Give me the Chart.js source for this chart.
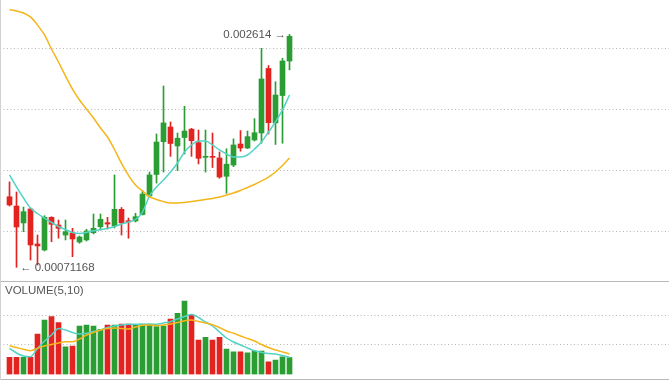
<!DOCTYPE html>
<html>
<head>
<meta charset="utf-8">
<script src="https://cdn.jsdelivr.net/npm/chart.js@4.4.1/dist/chart.umd.min.js"></script>
<style>
  html, body { margin: 0; padding: 0; background: #fff; }
  #wrap { position: relative; width: 669px; height: 380px; overflow: hidden; background: #fff; }
  canvas { position: absolute; left: 0; }
  .line { position: absolute; background: #b9b9b9; }
  .txt { position: absolute; font-family: "Liberation Sans", Arial, sans-serif; font-size: 11.5px; line-height: 11.5px; color: #555; white-space: nowrap; }
</style>
</head>
<body>
<div id="wrap">
  <canvas id="main" width="669" height="281" style="top:0"></canvas>
  <div class="line" style="left:0;top:281px;width:669px;height:1px;"></div>
  <canvas id="vol" width="669" height="97" style="top:282px"></canvas>
  <div class="line" style="left:0;top:379px;width:669px;height:1px;"></div>
  <div class="line" style="left:0;top:0;width:1px;height:380px;background:#d2d2d2"></div>
  <div class="txt" id="hiLbl"></div>
  <div class="txt" id="loLbl"></div>
  <div class="txt" id="volTitle" style="left:5px;top:285px;">VOLUME(5,10)</div>
</div>
<script>
// ---------- data ----------
const opens = [0.001288,0.001212,0.001074,0.001188,0.000902,0.000853,0.00112,0.001057,0.000975,0.000992,
  0.000918,0.000935,0.000994,0.001043,0.001076,0.001049,0.001185,0.001092,0.00109,0.001143,
  0.001294,0.00147,0.001738,0.001858,0.001703,0.001772,0.00184,0.00173,0.00161,0.001618,
  0.001605,0.001455,0.001547,0.001719,0.001686,0.001752,0.001809,0.002336,0.001891,0.002115,0.002397];
const highs = [0.001409,0.001327,0.001204,0.001196,0.000975,0.001133,0.001125,0.001098,0.001098,0.00103,
  0.000967,0.001022,0.001147,0.001147,0.00112,0.001466,0.0012,0.001114,0.001153,0.001339,
  0.00149,0.001801,0.002193,0.001899,0.001809,0.002027,0.001847,0.001833,0.001833,0.001809,
  0.001654,0.00168,0.001761,0.001829,0.001825,0.001926,0.002501,0.00236,0.002228,0.002419,0.002614];
const lows = [0.001212,0.00071168,0.001002,0.000771,0.00073,0.000845,0.000921,0.000949,0.000935,0.000798,
  0.000908,0.000926,0.000984,0.001016,0.001025,0.001033,0.000975,0.000949,0.001082,0.001139,
  0.001286,0.0014,0.00149,0.001618,0.001502,0.001637,0.001618,0.001556,0.00149,0.001527,
  0.001439,0.001316,0.001534,0.00166,0.001681,0.001743,0.001725,0.001801,0.001715,0.001725,0.002324];
const closes = [0.001221,0.001041,0.001166,0.000894,0.000886,0.00112,0.001063,0.00103,0.001002,0.000943,
  0.000959,0.001008,0.00103,0.001104,0.001065,0.001185,0.001074,0.001082,0.001125,0.00131,
  0.001466,0.001735,0.001891,0.001723,0.001766,0.001825,0.001746,0.001602,0.001617,0.00161,
  0.001449,0.001554,0.001711,0.001686,0.001779,0.001811,0.00225,0.001893,0.002119,0.002397,0.002599];
const maShort = [0.001466,0.001368,0.001278,0.001196,0.001151,0.001114,0.001078,0.001045,0.00102,0.000996,
  0.000988,0.000996,0.001011,0.00102,0.001029,0.001045,0.001065,0.001082,0.001102,0.001163,
  0.001294,0.001368,0.001425,0.00149,0.001564,0.001654,0.001711,0.001743,0.001743,0.001711,
  0.00167,0.001637,0.001613,0.001613,0.001629,0.001678,0.001735,0.001817,0.001899,0.001997,0.002119];
const maLong = [0.002818,0.002806,0.002789,0.002757,0.002691,0.00261,0.002495,0.002389,0.002275,0.002168,
  0.002078,0.002005,0.001931,0.00185,0.001776,0.001674,0.00156,0.001462,0.001384,0.001335,
  0.001288,0.001266,0.001248,0.001237,0.001237,0.001241,0.001249,0.001257,0.001266,0.001274,
  0.001286,0.001302,0.001319,0.001339,0.001364,0.001388,0.001417,0.001449,0.00149,0.001543,0.001605];
const volumes = [581,581,581,581,1368,1841,1953,1750,939,963,
  1639,1672,1639,1527,1672,1672,1706,1706,1672,1706,
  1706,1615,1639,1875,2068,2483,2010,1166,1257,1166,
  1257,861,770,770,736,794,794,432,490,601,568];
const volMa5 = [885,726,625,601,878,1132,1334,1554,1503,1419,
  1368,1392,1453,1503,1588,1639,1672,1696,1696,1696,
  1696,1696,1740,1784,1875,1959,2027,1926,1774,1639,
  1436,1233,1098,997,895,801,750,709,693,642,581];
const volMa10 = [973,912,851,804,885,963,1014,1064,1108,1108,
  1199,1334,1419,1503,1554,1571,1554,1537,1605,1662,
  1672,1649,1672,1706,1757,1818,1841,1791,1740,1679,
  1588,1470,1392,1301,1216,1132,1014,912,828,760,693];
const priceTicks = [0.001, 0.0015, 0.002, 0.0025];
const volTicks = [1000, 2000];

// ---------- style ----------
const UP = '#2a9d33', DOWN = '#e2231f', TEAL = '#52d3c6', GOLD = '#f5b51c';
const GRID = '#b5b5b5';
const X_MIN = -9.5 / 7, X_MAX = X_MIN + 669 / 7;
const idx = opens.map((_, i) => i);
const isUp = i => closes[i] >= opens[i];
const colorOf = c => isUp(c.dataIndex) ? UP : DOWN;

function xScale() {
  return { type: 'linear', min: X_MIN, max: X_MAX, offset: false, display: false,
           grid: { offset: false } };
}
function yScale(min, max, ticks) {
  return {
    min, max, position: 'left',
    afterBuildTicks: s => { s.ticks = ticks.map(v => ({ value: v })); },
    afterFit: s => { s.width = 0; },
    ticks: { display: false },
    grid: { color: GRID, lineWidth: 1, drawTicks: false },
    border: { display: false, dash: [1, 2.5] }
  };
}
const common = {
  responsive: false, animation: false, devicePixelRatio: 1,
  events: [],
  plugins: { legend: { display: false }, tooltip: { enabled: false } }
};

// ---------- main pane ----------
const main = new Chart(document.getElementById('main'), {
  type: 'bar',
  data: {
    datasets: [
      { type: 'line', data: idx.map(i => ({ x: i, y: maLong[i] })), borderColor: GOLD, borderWidth: 1.5,
        pointRadius: 0, cubicInterpolationMode: 'monotone', order: 0 },
      { type: 'line', data: idx.map(i => ({ x: i, y: maShort[i] })), borderColor: TEAL, borderWidth: 1.5,
        pointRadius: 0, cubicInterpolationMode: 'monotone', order: 0 },
      { data: idx.map(i => ({ x: i, y: [lows[i], highs[i]] })), backgroundColor: colorOf,
        barThickness: 1, grouped: false, order: 2 },
      { data: idx.map(i => ({ x: i, y: [opens[i], closes[i]] })), backgroundColor: colorOf,
        barThickness: 5, minBarLength: 1, grouped: false, order: 1 }
    ]
  },
  options: Object.assign({}, common, {
    layout: { padding: 0 },
    scales: { x: xScale(), y: yScale(0.0005996, 0.0028954, priceTicks) }
  })
});

// ---------- volume pane ----------
const vol = new Chart(document.getElementById('vol'), {
  type: 'bar',
  data: {
    datasets: [
      { type: 'line', data: idx.map(i => ({ x: i, y: volMa10[i] })), borderColor: GOLD, borderWidth: 1.5,
        pointRadius: 0, cubicInterpolationMode: 'monotone', order: 0 },
      { type: 'line', data: idx.map(i => ({ x: i, y: volMa5[i] })), borderColor: TEAL, borderWidth: 1.5,
        pointRadius: 0, cubicInterpolationMode: 'monotone', order: 0 },
      { data: idx.map(i => ({ x: i, y: volumes[i] })), backgroundColor: colorOf,
        barThickness: 5, grouped: false, order: 1 }
    ]
  },
  options: Object.assign({}, common, {
    layout: { padding: { top: 0, bottom: 4.5, left: 0, right: 0 } },
    scales: { x: xScale(), y: yScale(0, 3125, volTicks) }
  })
});

// ---------- extreme labels ----------
let hi = 0, lo = 0;
highs.forEach((v, i) => { if (v > highs[hi]) hi = i; });
lows.forEach((v, i) => { if (v < lows[lo]) lo = i; });
const hx = main.scales.x.getPixelForValue(hi), hy = main.scales.y.getPixelForValue(highs[hi]);
const lx = main.scales.x.getPixelForValue(lo), ly = main.scales.y.getPixelForValue(lows[lo]);
const hiLbl = document.getElementById('hiLbl');
hiLbl.textContent = String(highs[hi]) + ' \u2192';
hiLbl.style.right = (669 - (hx - 3.5)) + 'px';
hiLbl.style.top = (hy + 4.5 - 9.7) + 'px';
const loLbl = document.getElementById('loLbl');
loLbl.textContent = '\u2190 ' + String(lows[lo]);
loLbl.style.left = (lx + 3.5) + 'px';
loLbl.style.top = (ly + 4.5 - 9.7) + 'px';
</script>
</body>
</html>
